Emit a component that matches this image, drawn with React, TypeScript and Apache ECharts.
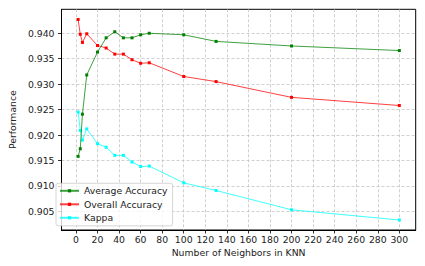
import React, { useEffect, useRef } from "react";
import * as echarts from "echarts";

const kValues = [2, 4, 6, 10, 20, 28, 36, 44, 52, 60, 68, 100, 130, 200, 300];
const averageAccuracy = [0.9158, 0.9173, 0.9241, 0.9318, 0.9363, 0.9391, 0.9403, 0.9391, 0.9391, 0.9397, 0.94, 0.9397, 0.9384, 0.9375, 0.9366];
const overallAccuracy = [0.9427, 0.9398, 0.9382, 0.9399, 0.9376, 0.9371, 0.9359, 0.9359, 0.9348, 0.9341, 0.9342, 0.9315, 0.9305, 0.9274, 0.9258];
const kappa = [0.9245, 0.9209, 0.919, 0.9212, 0.9183, 0.9176, 0.916, 0.916, 0.9147, 0.9138, 0.9139, 0.9106, 0.9091, 0.9053, 0.9033];
const xTicks = [0, 20, 40, 60, 80, 100, 120, 140, 160, 180, 200, 220, 240, 260, 280, 300];
const yTicks = [0.905, 0.91, 0.915, 0.92, 0.925, 0.93, 0.935, 0.94];
const seriesNames = ["Average Accuracy", "Overall Accuracy", "Kappa"];
const seriesColors = ["#008000", "#ff0000", "#00ffff"];

const FONT = "DejaVu Sans";
const FS = 9.3;

export default function App() {
  const ref = useRef<HTMLDivElement>(null);
  useEffect(() => {
    if (!ref.current) return;
    const chart = echarts.init(ref.current, undefined, { renderer: "svg" });
    const values = [averageAccuracy, overallAccuracy, kappa];
    const splitLine = {
      show: true,
      lineStyle: { color: "#c4c4c4", type: [3, 2], width: 0.8 },
    };
    chart.setOption({
      animation: false,
      backgroundColor: "#fff",
      textStyle: { fontFamily: FONT },
      grid: {
        left: 51.7,
        right: 9.3,
        top: 9.3,
        bottom: 36,
        show: true,
        borderColor: "#000",
        borderWidth: 1,
        backgroundColor: "transparent",
      },
      legend: {
        orient: "vertical",
        left: 56,
        top: 183.3,
        padding: [2.5, 5, 3, 3],
        itemWidth: 19,
        itemHeight: 4,
        itemGap: 3.5,
        backgroundColor: "rgba(255,255,255,0.8)",
        borderColor: "#cccccc",
        borderWidth: 0.8,
        borderRadius: 2,
        textStyle: { fontFamily: FONT, fontSize: FS, color: "#222", lineHeight: 10 },
        data: seriesNames,
      },
      xAxis: {
        type: "value",
        min: -13.4,
        max: 315.2,
        name: "Number of Neighbors in KNN",
        nameLocation: "middle",
        nameGap: 15.5,
        nameTextStyle: { fontFamily: FONT, fontSize: FS, color: "#222" },
        axisLine: { show: true, onZero: false, lineStyle: { color: "#000", width: 1 } },
        axisTick: { show: true, length: 3.5, customValues: xTicks, lineStyle: { color: "#000", width: 0.8 } },
        axisLabel: { show: true, customValues: xTicks, margin: 4.5, fontFamily: FONT, fontSize: FS, color: "#222" },
        splitLine,
      },
      yAxis: {
        type: "value",
        min: 0.90133,
        max: 0.94471,
        name: "Performance",
        nameLocation: "middle",
        nameGap: 32,
        nameTextStyle: { fontFamily: FONT, fontSize: FS, color: "#222" },
        axisLine: { show: true, onZero: false, lineStyle: { color: "#000", width: 1 } },
        axisTick: { show: true, length: 3.5, customValues: yTicks, lineStyle: { color: "#000", width: 0.8 } },
        axisLabel: {
          show: true,
          customValues: yTicks,
          margin: 7,
          fontFamily: FONT,
          fontSize: FS,
          color: "#222",
          formatter: (v: number) => v.toFixed(3),
        },
        splitLine,
      },
      series: seriesNames.map((name, i) => ({
        name,
        type: "line",
        data: kValues.map((k, j) => [k, values[i][j]]),
        symbol: "rect",
        symbolSize: 3,
        showSymbol: true,
        color: seriesColors[i],
        itemStyle: { color: seriesColors[i] },
        lineStyle: { color: seriesColors[i], width: 1, opacity: 0.75 },
        emphasis: { disabled: true },
        z: 3 - i,
      })),
    });
    return () => chart.dispose();
  }, []);
  return (
    <div
      ref={ref}
      style={{ position: "fixed", left: 0, top: 0, width: 425, height: 266 }}
    />
  );
}
